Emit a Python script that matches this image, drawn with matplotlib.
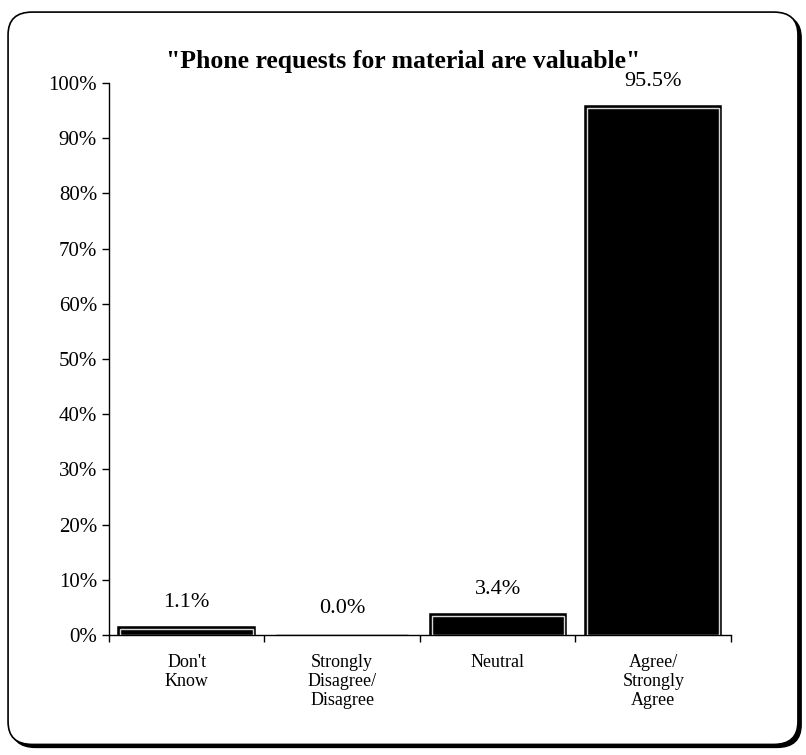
import matplotlib
matplotlib.use("Agg")
import matplotlib.pyplot as plt
from matplotlib.patches import FancyBboxPatch
from matplotlib.ticker import FuncFormatter, MultipleLocator

categories = ["Don't\nKnow", "Strongly\nDisagree/\nDisagree", "Neutral", "Agree/\nStrongly\nAgree"]
values = [1.1, 0.0, 3.4, 95.5]
value_labels = ["1.1%", "0.0%", "3.4%", "95.5%"]
title = '"Phone requests for material are valuable"'

plt.rcParams['font.family'] = ['Liberation Serif', 'DejaVu Serif']

fig = plt.figure(figsize=(8.06, 7.55), dpi=100)
fig.patch.set_facecolor('white')

# frame with shadow
shadow = FancyBboxPatch((0.014, 0.010), 0.980, 0.970, boxstyle="round,pad=0,rounding_size=0.03",
                        transform=fig.transFigure, facecolor='black', edgecolor='black', lw=1, zorder=-3)
frame = FancyBboxPatch((0.010, 0.014), 0.980, 0.970, boxstyle="round,pad=0,rounding_size=0.03",
                       transform=fig.transFigure, facecolor='white', edgecolor='black', lw=1.2, zorder=-2)
fig.patches.extend([shadow, frame])

ax = fig.add_axes([0.135, 0.159, 0.772, 0.731])
ax.set_zorder(5)
ax.set_facecolor('none')
x = list(range(len(categories)))
lws = [4 if v > 0 else 1 for v in values]
ax.bar(x, values, width=0.85, color='black', edgecolor='black', linewidth=lws, zorder=2)
ax.bar([xi for xi, v in zip(x, values) if v > 0], [v for v in values if v > 0],
       width=0.85, color='none', edgecolor='#d8d8d8', linewidth=1.0, zorder=3)

for xi, v, lab in zip(x, values, value_labels):
    ax.annotate(lab, (xi, v), xytext=(0, 19), textcoords='offset points',
                ha='center', va='center', fontsize=16)

ax.set_xlim(-0.5, len(categories) - 0.5)
ax.set_ylim(0, 100)
ax.yaxis.set_major_locator(MultipleLocator(10))
ax.yaxis.set_major_formatter(FuncFormatter(lambda v, p: f"{int(round(v))}%"))
ax.set_xticks([i - 0.5 for i in range(len(categories) + 1)])
ax.set_xticklabels([])
ax.set_xticks(x, minor=True)
ax.set_xticklabels(categories, minor=True, fontsize=13, linespacing=1.15, va='top')
ax.tick_params(axis='x', which='minor', length=0, pad=14)
ax.tick_params(axis='x', which='major', length=5, direction='out', width=1)
ax.tick_params(axis='y', length=5, direction='out', labelsize=15, width=1)
for s in ['top', 'right']:
    ax.spines[s].set_visible(False)
for s in ['left', 'bottom']:
    ax.spines[s].set_linewidth(1)

fig.text(0.5, 0.918, title, ha='center', va='center', fontsize=18.5, fontweight='bold', zorder=6)

fig.savefig('out.png', dpi=100)
